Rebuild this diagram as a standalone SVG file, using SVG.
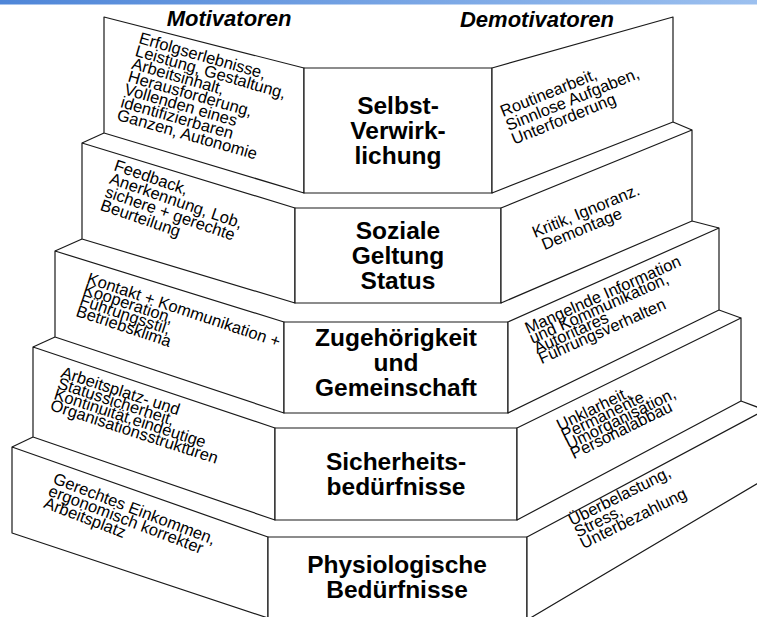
<svg xmlns="http://www.w3.org/2000/svg" width="757" height="617" viewBox="0 0 757 617">
  <defs>
    <linearGradient id="topbar" x1="0" y1="0" x2="1" y2="0">
      <stop offset="0" stop-color="#4f86d8"/>
      <stop offset="1" stop-color="#9cc0ef"/>
    </linearGradient>
  </defs>
  <style>
    .face { fill: #ffffff; stroke: #1a1a1a; stroke-width: 1.2; stroke-linejoin: round; }
    .link { fill: none; stroke: #1a1a1a; stroke-width: 1.2; }
    .head { font-family: "Liberation Sans", Arial, sans-serif; font-size: 22px; font-weight: bold; font-style: italic; fill: #000; text-anchor: middle; }
    .need { font-family: "Liberation Sans", Arial, sans-serif; font-size: 24.5px; font-weight: bold; fill: #000; text-anchor: middle; }
    .side { font-family: "Liberation Sans", Arial, sans-serif; font-size: 16.5px; fill: #000; }
  </style>

  <rect x="0" y="0" width="757" height="4.5" fill="url(#topbar)"/>

  <text class="head" x="229" y="26">Motivatoren</text>
  <text class="head" x="537" y="27">Demotivatoren</text>

  <!-- Level 1: Selbstverwirklichung -->
  <g id="level-selbstverwirklichung">
    <polygon class="face" points="104,17 304,68 304,193 104,133"/>
    <rect class="face" x="304" y="68" width="188" height="125"/>
    <polygon class="face" points="492,68 673,17 673,122 492,193"/>
    <text class="need"><tspan x="398" y="114">Selbst-</tspan><tspan x="398" y="139">Verwirk-</tspan><tspan x="398" y="164">lichung</tspan></text>
    <text class="side" transform="translate(138,43) rotate(16)"><tspan x="0" y="0">Erfolgserlebnisse,</tspan><tspan x="0" dy="13.3">Leistung, Gestaltung,</tspan><tspan x="0" dy="13.3">Arbeitsinhalt,</tspan><tspan x="0" dy="13.3">Herausforderung,</tspan><tspan x="0" dy="13.3">Vollenden eines</tspan><tspan x="0" dy="13.3">identifizierbaren</tspan><tspan x="0" dy="13.3">Ganzen, Autonomie</tspan></text>
    <text class="side" transform="translate(503,117) rotate(-22)"><tspan x="0" y="0">Routinearbeit,</tspan><tspan x="0" dy="15">Sinnlose Aufgaben,</tspan><tspan x="0" dy="15">Unterforderung</tspan></text>
  </g>

  <!-- Level 2: Soziale Geltung -->
  <g id="level-soziale-geltung">
    <polygon class="face" points="82,143 295,208 295,303 82,239"/>
    <rect class="face" x="295" y="208" width="206" height="95"/>
    <polygon class="face" points="501,208 692,130 692,221 501,303"/>
    <text class="need"><tspan x="398" y="239">Soziale</tspan><tspan x="398" y="264">Geltung</tspan><tspan x="398" y="289">Status</tspan></text>
    <text class="side" transform="translate(113,170) rotate(19)"><tspan x="0" y="0">Feedback,</tspan><tspan x="0" dy="14">Anerkennung, Lob,</tspan><tspan x="0" dy="14">sichere + gerechte</tspan><tspan x="0" dy="14">Beurteilung</tspan></text>
    <text class="side" transform="translate(535,238) rotate(-22.5)"><tspan x="0" y="0">Kritik, Ignoranz.</tspan><tspan x="4" dy="15">Demontage</tspan></text>
  </g>

  <!-- Level 3: Zugehoerigkeit -->
  <g id="level-zugehoerigkeit">
    <polygon class="face" points="55,251 284,322 284,413 55,337"/>
    <rect class="face" x="284" y="322" width="224" height="91"/>
    <polygon class="face" points="508,322 719,228 719,310 508,413"/>
    <text class="need"><tspan x="396" y="346">Zugehörigkeit</tspan><tspan x="396" y="371">und</tspan><tspan x="396" y="396">Gemeinschaft</tspan></text>
    <text class="side" transform="translate(86,283) rotate(18.5)"><tspan x="0" y="0">Kontakt + Kommunikation +</tspan><tspan x="0" dy="11.5">Kooperation,</tspan><tspan x="0" dy="11.5">Führungsstil,</tspan><tspan x="0" dy="11.5">Betriebsklima</tspan></text>
    <text class="side" transform="translate(528,334) rotate(-24)"><tspan x="0" y="0">Mangelnde Information</tspan><tspan x="0" dy="11">und Kommunikation,</tspan><tspan x="0" dy="11">Autoritäres</tspan><tspan x="0" dy="11">Führungsverhalten</tspan></text>
  </g>

  <!-- Level 4: Sicherheit -->
  <g id="level-sicherheit">
    <polygon class="face" points="33,347 275,428 275,520 33,437"/>
    <rect class="face" x="275" y="428" width="242" height="92"/>
    <polygon class="face" points="517,428 741,318 741,401 517,520"/>
    <text class="need"><tspan x="396" y="470">Sicherheits-</tspan><tspan x="396" y="495">bedürfnisse</tspan></text>
    <text class="side" transform="translate(60,377) rotate(18)"><tspan x="0" y="0">Arbeitsplatz- und</tspan><tspan x="0" dy="11.5">Statussicherheit,</tspan><tspan x="0" dy="11.5">Kontinuität,eindeutige</tspan><tspan x="0" dy="11.5">Organisationsstrukturen</tspan></text>
    <text class="side" transform="translate(560,431) rotate(-26)"><tspan x="0" y="0">Unklarheit,</tspan><tspan x="0" dy="10.5">Permanente</tspan><tspan x="0" dy="10.5">Umorganisation,</tspan><tspan x="0" dy="10.5">Personalabbau</tspan></text>
  </g>

  <!-- Level 5: Physiologische Beduerfnisse -->
  <g id="level-physiologie">
    <polygon class="face" points="12,447 268,537 268,618 12,533"/>
    <rect class="face" x="268" y="537" width="259" height="100"/>
    <polygon class="face" points="527,537 765,410 765,479 527,620"/>
    <text class="need"><tspan x="397" y="573">Physiologische</tspan><tspan x="397" y="598">Bedürfnisse</tspan></text>
    <text class="side" transform="translate(52,483) rotate(21)"><tspan x="0" y="0">Gerechtes Einkommen,</tspan><tspan x="0" dy="13">ergonomisch korrekter</tspan><tspan x="0" dy="13">Arbeitsplatz</tspan></text>
    <text class="side" transform="translate(572,526) rotate(-26.5)"><tspan x="0" y="0">Überbelastung,</tspan><tspan x="0" dy="13">Stress,</tspan><tspan x="0" dy="13">Unterbezahlung</tspan></text>
  </g>

  <!-- short edges joining each step to the one below -->
  <g id="connectors">
    <line class="link" x1="104" y1="133" x2="82" y2="143"/>
    <line class="link" x1="82" y1="239" x2="55" y2="251"/>
    <line class="link" x1="55" y1="337" x2="33" y2="347"/>
    <line class="link" x1="33" y1="437" x2="12" y2="447"/>
    <line class="link" x1="673" y1="122" x2="692" y2="130"/>
    <line class="link" x1="692" y1="221" x2="719" y2="228"/>
    <line class="link" x1="719" y1="310" x2="741" y2="318"/>
    <line class="link" x1="741" y1="401" x2="765" y2="410"/>
  </g>
</svg>
